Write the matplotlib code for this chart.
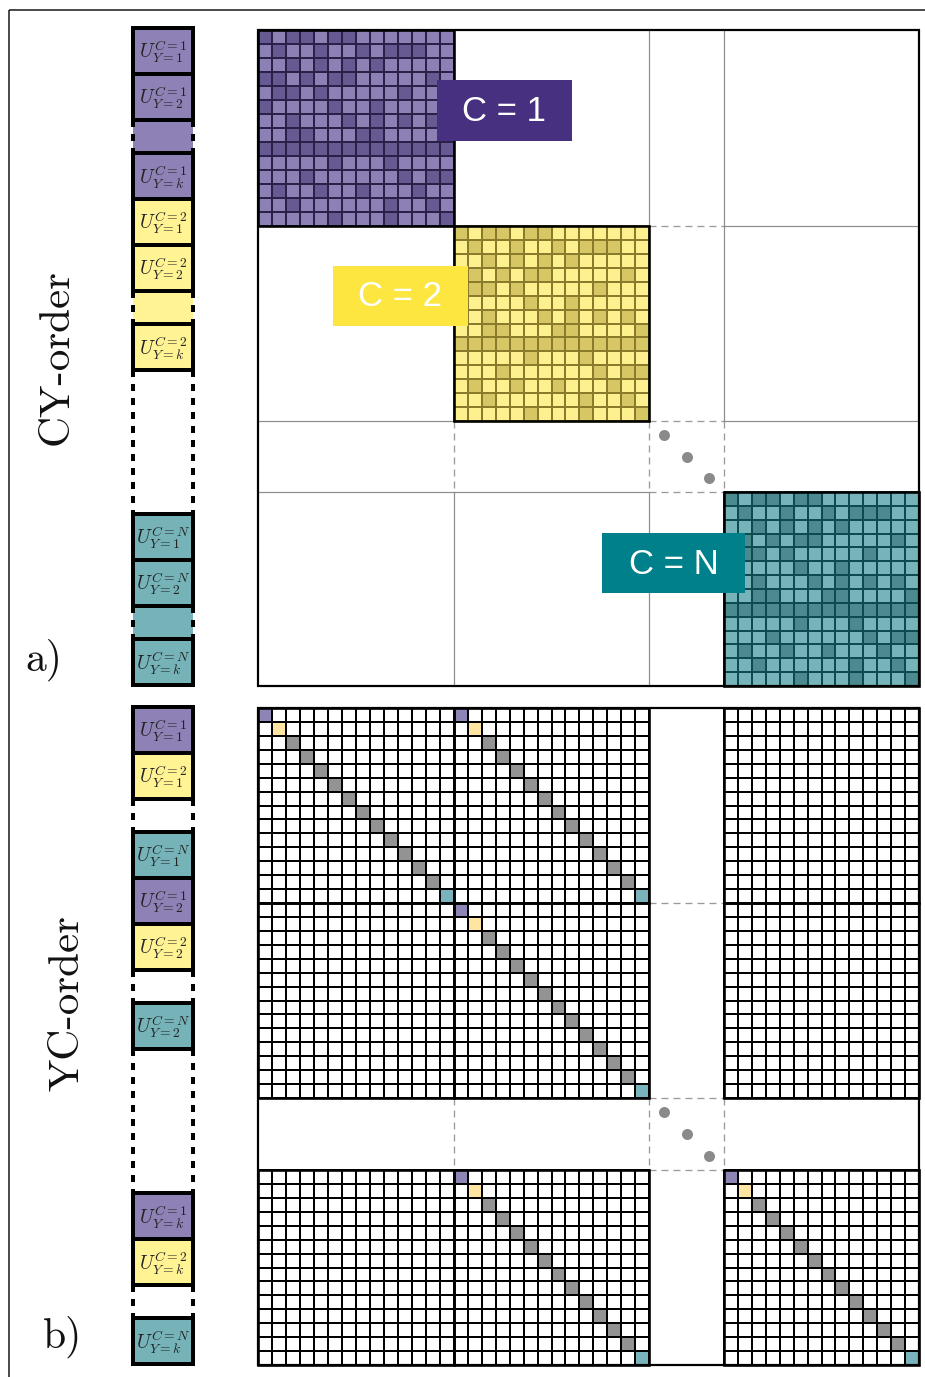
import numpy as np
import matplotlib.pyplot as plt
from matplotlib.patches import Rectangle
from matplotlib.colors import ListedColormap

plt.rcParams['mathtext.fontset'] = 'cm'
plt.rcParams['lines.scale_dashes'] = False

# 14x14 pattern shared by the three class blocks (1 = dark cell)
pattern = [
    "10110110000000",
    "01001001011100",
    "00101010100000",
    "11010110000010",
    "01101000001000",
    "10000100100000",
    "00100010101010",
    "00110001100001",
    "11111111111111",
    "00000100010000",
    "00010000001011",
    "01001001000100",
    "00100000010010",
    "00000100010001",
]
classes = ["1", "2", "N"]
heat_blocks = [0, 1, 3]                       # diagonal block index per class
diag_blocks = [(0, 0), (0, 1), (1, 1), (3, 1), (3, 3)]   # (row, col) of YC blocks with a diagonal
diag_cells = [1, 2] + [3] * 11 + [4]          # purple, yellow, gray..., teal

cy_stack = ["1/1", "1/2", "1/…", "1/k", "2/1", "2/2", "2/…", "2/k", "gap",
            "N/1", "N/2", "N/…", "N/k"]
yc_stack = ["1/1", "2/1", "skip", "N/1", "1/2", "2/2", "skip", "N/2", "gap",
            "1/k", "2/k", "skip", "N/k"]

# colours
light = {"1": "#8d80b4", "2": "#fdf08e", "N": "#77b4ba"}
dark = {"1": "#675a92", "2": "#d6c764", "N": "#4b8b8f"}
edge = {"1": "#2b2148", "2": "#8a7a2c", "N": "#0d4b51"}
tag = {"1": "#46307f", "2": "#fde63f", "N": "#00808a"}
stack_col = {"1": "#8e81b5", "2": "#fff394", "N": "#76b3b9"}
diag_cmap = ListedColormap(["white", "#8f84b6", "#ffe5a2", "#939393", "#79b4bc"])


def pt(px):
    return px * 0.72


fig = plt.figure(figsize=(9.25, 13.77), dpi=100)
ax = fig.add_axes([0, 0, 1, 1])
ax.set_xlim(0, 925)
ax.set_ylim(1377, 0)
ax.axis('off')

# outer frame
ax.add_patch(Rectangle((9, 10), 940, 1390, fill=False, ec='#222222', lw=pt(1.6)))

xe = [258, 454, 649, 724, 919]
ye_top = [30, 226, 421, 492, 686]
ye_bot = [708, 903, 1098, 1170, 1365]


def guides(xe, ye):
    dash = dict(color='#9a9a9a', lw=pt(1.3), ls=(0, (pt(7), pt(5))), zorder=1)
    solid = dict(color='#8c8c8c', lw=pt(1.2), zorder=1)
    for x in xe[1:4]:
        for j in range(4):
            ax.plot([x, x], [ye[j], ye[j + 1]], **(dash if j == 2 else solid))
    for y in ye[1:4]:
        for i in range(4):
            ax.plot([xe[i], xe[i + 1]], [y, y], **(dash if i == 2 else solid))
    # dots in the gap box
    gx = np.array([0.2, 0.5, 0.8]) * (xe[3] - xe[2]) + xe[2]
    gy = np.array([0.2, 0.5, 0.8]) * (ye[3] - ye[2]) + ye[2]
    ax.plot(gx, gy, 'o', color='#8a8a8a', ms=pt(11), mec='none', zorder=2)
    ax.add_patch(Rectangle((xe[0], ye[0]), xe[-1] - xe[0], ye[-1] - ye[0],
                           fill=False, ec='black', lw=pt(2.2), zorder=5))


# a) CY-order: one heat block per class
guides(xe, ye_top)
grid = np.array([[int(v) for v in row] for row in pattern])
for c, b in zip(classes, heat_blocks):
    gx = np.linspace(xe[b], xe[b + 1], 15)
    gy = np.linspace(ye_top[b], ye_top[b + 1], 15)
    ax.pcolormesh(gx, gy, grid, cmap=ListedColormap([light[c], dark[c]]),
                  edgecolors=edge[c], linewidth=pt(2), zorder=2)
    ax.add_patch(Rectangle((gx[0], gy[0]), gx[-1] - gx[0], gy[-1] - gy[0],
                           fill=False, ec='black', lw=pt(2.6), zorder=3))

tag_pos = {"1": (437, 80, 135, 61), "2": (333, 266, 135, 60), "N": (602, 533, 143, 60)}
for c in classes:
    x, y, w, h = tag_pos[c]
    ax.add_patch(Rectangle((x, y), w, h, fc=tag[c], ec='none', zorder=6))
    ax.text(x + w / 2, y + h / 2 + 1, f"C = {c}", color='white', fontsize=25,
            family='Liberation Sans', ha='center', va='center', zorder=7)

# b) YC-order: every block is a grid, some carry the class diagonal
guides(xe, ye_bot)
for r in [0, 1, 3]:
    for k in [0, 1, 3]:
        vals = np.zeros((14, 14))
        if (r, k) in diag_blocks:
            vals[np.arange(14), np.arange(14)] = diag_cells
        gx = np.linspace(xe[k], xe[k + 1], 15)
        gy = np.linspace(ye_bot[r], ye_bot[r + 1], 15)
        ax.pcolormesh(gx, gy, vals, cmap=diag_cmap, vmin=-0.5, vmax=4.5,
                      edgecolors='black', linewidth=pt(1.7), zorder=2)
        ax.add_patch(Rectangle((gx[0], gy[0]), gx[-1] - gx[0], gy[-1] - gy[0],
                               fill=False, ec='black', lw=pt(2.6), zorder=3))


# left-hand stacks of sub-populations
def stack(entries, y):
    x0, w = 133, 60
    side = dict(color='black', lw=pt(4), ls=(0, (pt(7), pt(7))), zorder=3)
    for e in entries:
        if e == "gap":
            h = 144
        elif e == "skip" or e.endswith("…"):
            h = 33
        else:
            h = 46
        if e in ("gap", "skip") or e.endswith("…"):
            if e.endswith("…"):
                ax.add_patch(Rectangle((x0, y), w, h, fc=stack_col[e[0]], ec='none', zorder=2))
            ax.plot([x0, x0], [y, y + h], **side)
            ax.plot([x0 + w, x0 + w], [y, y + h], **side)
        else:
            c, yv = e.split("/")
            ax.add_patch(Rectangle((x0, y), w, h, fc=stack_col[c], ec='black',
                                   lw=pt(4), zorder=4))
            ax.text(x0 + w / 2, y + h / 2 + 1, rf"$U^{{C={c}}}_{{Y={yv}}}$", fontsize=14,
                    color='#222222', ha='center', va='center', zorder=5)
        y += h


stack(cy_stack, 28)
stack(yc_stack, 707)

serif = dict(family='cmr10', color='#111111', ha='center', va='center')
ax.text(57, 357, "CY-order", fontsize=31, rotation=90, **serif)
ax.text(68, 1003, "YC-order", fontsize=31, rotation=90, **serif)
ax.text(44, 660, "a)", fontsize=30, **serif)
ax.text(62, 1337, "b)", fontsize=30, **serif)

fig.savefig("out.png", dpi=100)
